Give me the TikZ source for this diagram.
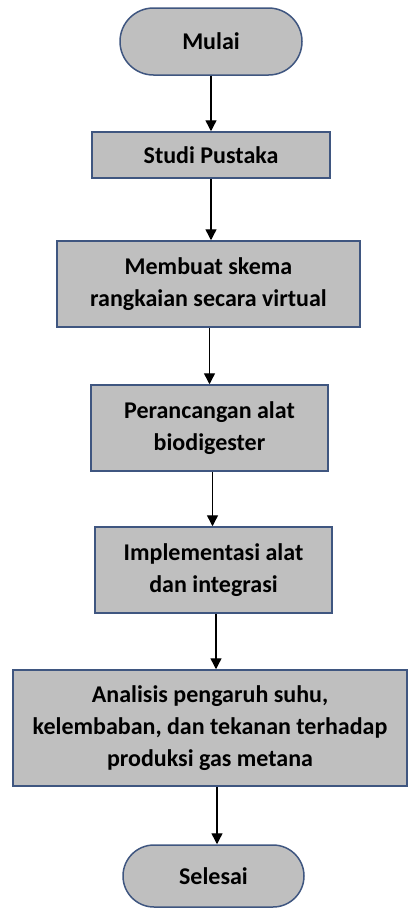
\documentclass[tikz,border=0pt]{standalone}
\usepackage{fontspec}
\setmainfont{Carlito}
\usetikzlibrary{shapes.misc,arrows.meta}
\definecolor{boxfill}{HTML}{BFBFBF}
\definecolor{boxline}{HTML}{3F5680}
\tikzset{
  box/.style={draw=boxline, fill=boxfill, line width=1.5pt, align=center,
    font=\bfseries\fontsize{24}{32}\selectfont, inner sep=0pt},
  term/.style={box, rounded rectangle},
  arr/.style={draw=black, line width=1.4pt, -{Triangle[width=11pt,length=11pt]}}
}
\begin{document}
\begin{tikzpicture}[x=1pt,y=-1pt]
\useasboundingbox (0,0) rectangle (408,908);
\node[term, minimum width=182pt, minimum height=67pt] (mulai) at (211,41.5) {Mulai};
\node[box, minimum width=238pt, minimum height=46pt] (studi) at (211,155) {Studi Pustaka};
\node[box, minimum width=303pt, minimum height=86pt] (skema) at (208.5,284) {Membuat skema\\rangkaian secara virtual};
\node[box, minimum width=237pt, minimum height=86pt] (rancang) at (209.5,428) {Perancangan alat\\biodigester};
\node[box, minimum width=237pt, minimum height=86pt] (impl) at (213.5,570) {Implementasi alat\\dan integrasi};
\node[box, minimum width=394pt, minimum height=116pt] (anal) at (210,728) {Analisis pengaruh suhu,\\kelembaban, dan tekanan terhadap\\produksi gas metana};
\node[term, minimum width=181pt, minimum height=62pt] (selesai) at (213.5,876) {Selesai};
\draw[arr] (mulai.south) -- (mulai.south |- studi.north);
\draw[arr] (studi.south) -- (studi.south |- skema.north);
\draw[arr] ([xshift=1pt]skema.south) -- ([xshift=1pt]skema.south |- rancang.north);
\draw[arr] ([xshift=3pt]rancang.south) -- ([xshift=3pt]rancang.south |- impl.north);
\draw[arr] ([xshift=2.5pt]impl.south) -- ([xshift=2.5pt]impl.south |- anal.north);
\draw[arr] ([xshift=7pt]anal.south) -- ([xshift=7pt]anal.south |- selesai.north);
\end{tikzpicture}
\end{document}
